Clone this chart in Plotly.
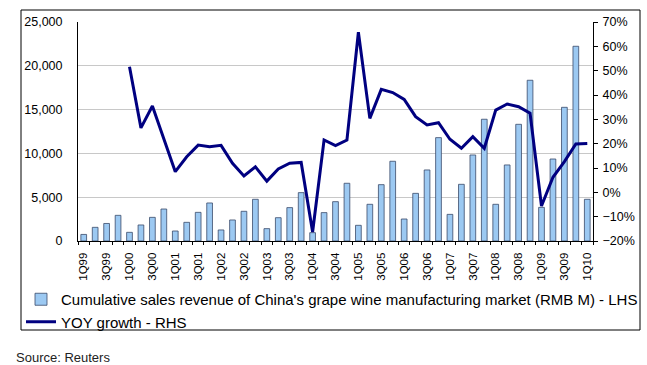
import plotly.graph_objects as go

years = ["99", "00", "01", "02", "03", "04", "05", "06", "07", "08", "09", "10"]
quarters = [f"{q}Q{y}" for y in years for q in range(1, 5)][:45]

revenue = [750, 1560, 2000, 2930,
           990, 1830, 2700, 3650,
           1140, 2130, 3270, 4340,
           1260, 2400, 3390, 4760,
           1410, 2660, 3810, 5520,
           950, 3240, 4490, 6590,
           1790, 4190, 6430, 9100,
           2510, 5440, 8110, 11800,
           3040, 6470, 9820, 13900,
           4190, 8680, 13320, 18350,
           3840, 9360, 15260, 22230,
           4760]

growth = [None, None, None, None,
          51.6, 26.5, 35.5, 22.0,
          8.5, 14.6, 19.4, 18.7,
          19.3, 11.9, 6.7, 10.5,
          4.6, 9.6, 12.0, 12.3,
          -16.3, 21.5, 19.2, 21.5,
          65.8, 30.4, 42.3, 41.0,
          38.2, 31.1, 27.7, 28.6,
          21.8, 18.1, 22.9, 18.1,
          33.8, 36.3, 35.2, 32.5,
          -5.6, 6.2, 12.6, 19.9,
          20.1]

tick_text = [q if i % 2 == 0 else "" for i, q in enumerate(quarters)]

bar_name = "Cumulative sales revenue of China's grape wine manufacturing market (RMB M) - LHS"
line_name = "YOY growth - RHS"
source_text = "Source: Reuters"

FONT = "Liberation Sans, Arial, sans-serif"

fig = go.Figure()
fig.add_trace(go.Bar(
    x=quarters, y=revenue, name=bar_name,
    marker=dict(color="#9CC9F2", line=dict(color="#3A4A6A", width=0.8)),
    yaxis="y",
))
fig.add_trace(go.Scatter(
    x=quarters, y=growth, name=line_name, mode="lines",
    line=dict(color="#000080", width=3),
    yaxis="y2",
))

W, H = 647, 365
L, R, T, B = 78, 593, 22, 241
pw, ph = R - L, B - T

def px_x(x):
    return (x - L) / pw

def px_y(y):
    return (B - y) / ph

fig.update_layout(
    width=W, height=H,
    margin=dict(l=L, r=W - R, t=T, b=H - B),
    paper_bgcolor="white", plot_bgcolor="white",
    font=dict(family=FONT, size=12, color="#000000"),
    bargap=0.5,
    showlegend=True,
    legend=dict(
        x=px_x(21), y=px_y(283), xanchor="left", yanchor="top",
        font=dict(size=15, family=FONT, color="#000000"),
        bgcolor="rgba(0,0,0,0)", tracegroupgap=0,
        itemwidth=30,
    ),
    xaxis=dict(
        type="category", range=[-0.5, 44.5],
        tickmode="array", tickvals=quarters, ticktext=tick_text,
        tickangle=-90, tickfont=dict(size=11.5),
        tickson="boundaries", ticks="outside", ticklen=3,
        tickcolor="#000000", ticklabelstandoff=6,
        showline=True, linecolor="#000000", linewidth=1,
        showgrid=False,
    ),
    yaxis=dict(
        range=[0, 25000], dtick=5000, tickformat=",",
        showline=True, linecolor="#000000", linewidth=1,
        showgrid=True, gridcolor="#C8C8C8", gridwidth=1,
        zeroline=False, ticks="", tickfont=dict(size=12.5),
        ticklabelstandoff=12,
    ),
    yaxis2=dict(
        range=[-20, 70], dtick=10, ticksuffix="%",
        overlaying="y", side="right",
        showline=True, linecolor="#000000", linewidth=1,
        showgrid=False, zeroline=False,
        ticks="outside", ticklen=4, tickcolor="#000000",
        tickfont=dict(size=12.5), ticklabelstandoff=2,
    ),
    shapes=[dict(
        type="rect", xref="paper", yref="paper",
        x0=px_x(21), x1=px_x(640), y0=px_y(330), y1=px_y(10),
        line=dict(color="#000000", width=1), fillcolor="rgba(0,0,0,0)",
        layer="below",
    )],
    annotations=[dict(
        text=source_text, xref="paper", yref="paper",
        x=px_x(14), y=px_y(357), xanchor="left", yanchor="middle",
        showarrow=False, font=dict(size=13, family=FONT, color="#222222"),
    )],
)

fig.write_html(
    "out.html",
    config={"displayModeBar": False},
    post_script="document.body.style.margin='0';document.body.style.overflow='hidden';",
)
